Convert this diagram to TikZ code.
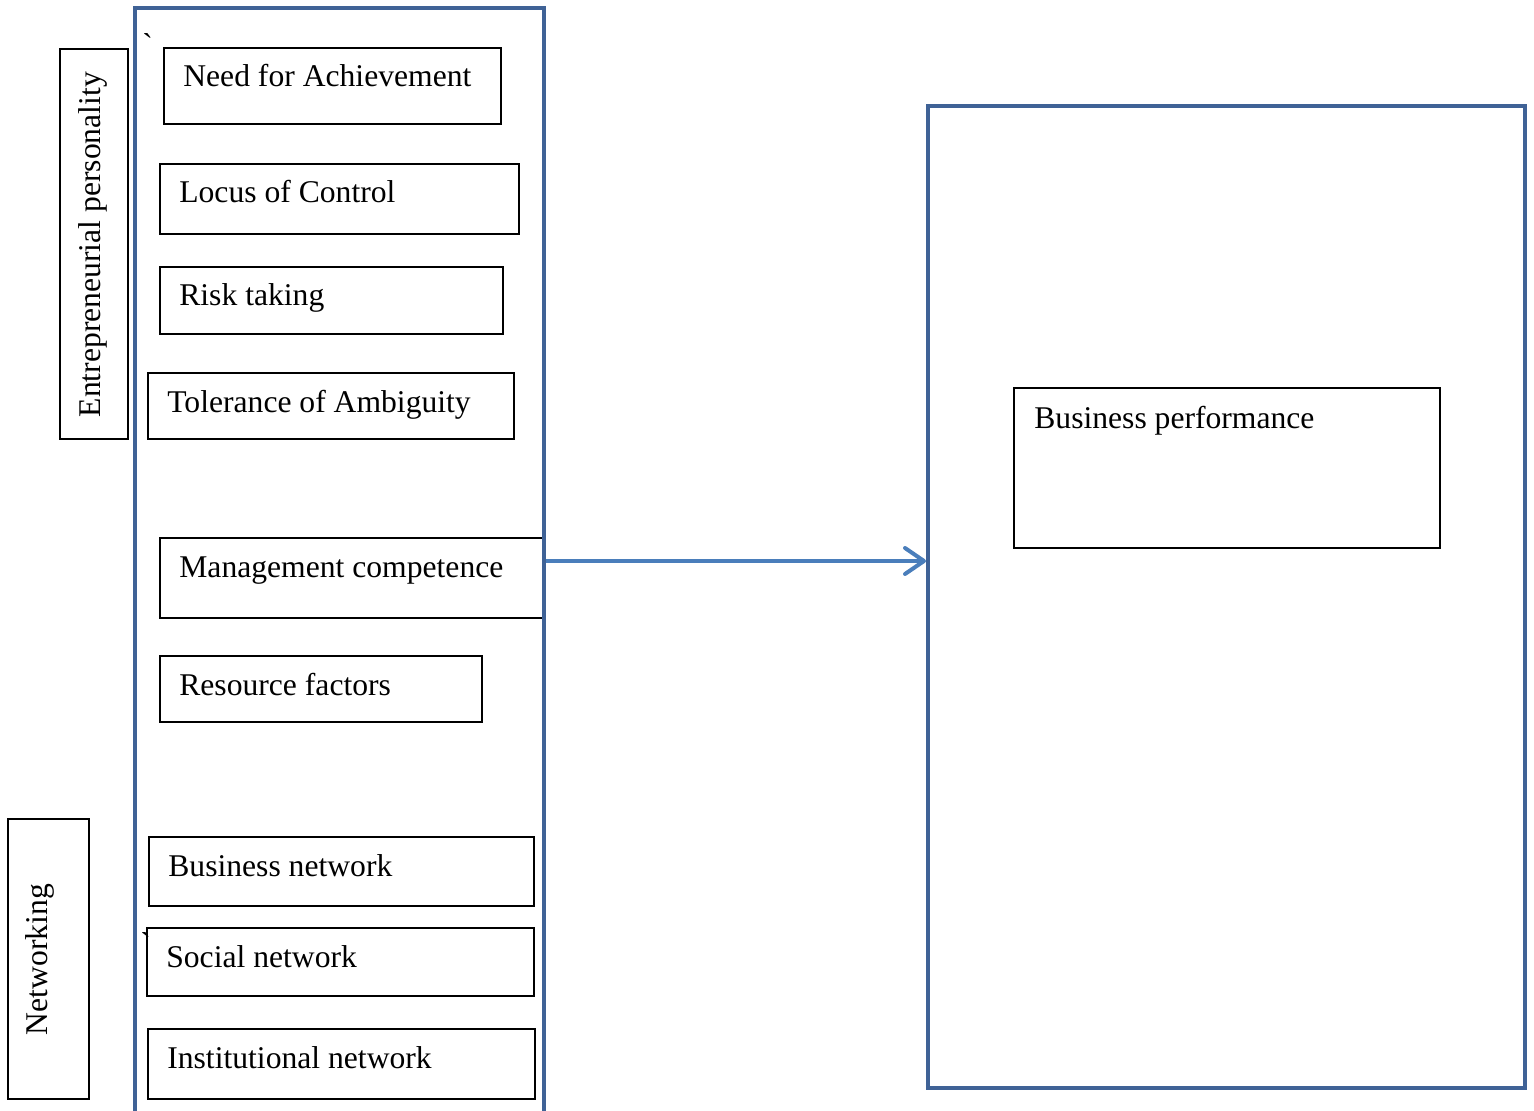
\documentclass[tikz,border=0pt]{standalone}
\usepackage{fontspec}
\setmainfont{Liberation Serif}
\usetikzlibrary{arrows.meta,calc}
\definecolor{frameblue}{RGB}{63,98,150}
\definecolor{arrowblue}{RGB}{74,126,187}

\begin{document}
\begin{tikzpicture}[x=0.02cm,y=-0.02cm,>={Straight Barb[length=0.38cm,width=0.52cm,round]},
  item/.style={draw,line width=0.9pt,anchor=north west,inner sep=0pt},
  bigbox/.style={draw=frameblue,line width=0.08cm,anchor=north west,inner sep=0pt},
  txt/.style={anchor=base west,inner sep=0pt,font=\fontsize{18}{22}\selectfont}]
\useasboundingbox (0,0) rectangle (1534,1111);

% Factor boxes: name/left/top/width/height/text
\foreach \nm/\x/\y/\w/\h/\t in {
  nach/163/47/337/76/Need for Achievement,
  loc/159/163/359/70/Locus of Control,
  risk/159/266/343/67/Risk taking,
  tol/147/372/366/66/Tolerance of Ambiguity,
  mgmt/159/537/384/80/Management competence,
  res/159/655/322/66/Resource factors,
  bnet/148/836/385/69/Business network,
  snet/146/927/387/68/Social network,
  inet/147/1028/387/70/Institutional network}
{
  \node[item,minimum width=\w*0.02cm,minimum height=\h*0.02cm] (\nm) at (\x,\y) {};
  \node[txt] (\nm-t) at ($(\nm.north west)+(20,40)$) {\t};
}

% Group labels
\node[item,minimum width=68*0.02cm,minimum height=390*0.02cm] (ep) at (59,48) {};
\node[txt,rotate=90] (ep-t) at ($(ep.south west)+(41,-22)$) {Entrepreneurial personality};
\node[item,minimum width=81*0.02cm,minimum height=280*0.02cm] (netw) at (7,818) {};
\node[txt,rotate=90] (netw-t) at ($(netw.south west)+(40,-64)$) {Networking};
\node[txt] (tick1) at (142,56) {\textasciigrave};
\node[txt] (tick2) at (140,954) {\textasciigrave};

% Outcome
\node[bigbox,minimum width=597*0.02cm,minimum height=982*0.02cm] (perf) at (926,104) {};
\node[item,minimum width=426*0.02cm,minimum height=160*0.02cm] (bperf) at (1013,387) {};
\node[txt] (bperf-t) at ($(bperf.north west)+(21,41)$) {Business performance};

% Open frame round the factors
\draw[frameblue,line width=0.08cm] (135,1111) -- (135,8) -- (544,8) -- (544,1111);
\coordinate (src) at (546,561);
\draw[->,arrowblue,line width=0.08cm] (src) -- (src -| perf.west);
\end{tikzpicture}
\end{document}
